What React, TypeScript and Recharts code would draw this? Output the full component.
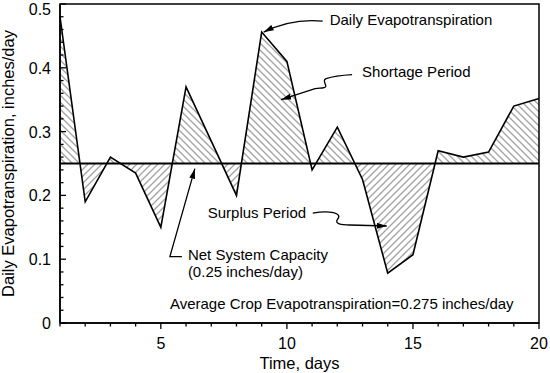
import {
  ComposedChart,
  Area,
  Line,
  XAxis,
  YAxis,
  ReferenceLine,
  ReferenceArea,
  ReferenceDot,
  Label,
} from "recharts";

const days = [1, 2, 3, 4, 5, 6, 7, 8, 9, 10, 11, 12, 13, 14, 15, 16, 17, 18, 19, 20];
const dailyEt = [
  0.48, 0.19, 0.26, 0.235, 0.15, 0.37, 0.285, 0.2, 0.456, 0.41, 0.24, 0.307, 0.225, 0.078,
  0.107, 0.27, 0.26, 0.268, 0.34, 0.352,
];
const capacity = 0.25;
const xTicks = days;
const xLabelTicks = [5, 10, 15, 20];
const yTicks = [
  0, 0.02, 0.04, 0.06, 0.08, 0.1, 0.12, 0.14, 0.16, 0.18, 0.2, 0.22, 0.24, 0.26, 0.28, 0.3,
  0.32, 0.34, 0.36, 0.38, 0.4, 0.42, 0.44, 0.46, 0.48, 0.5,
];
const yLabelTicks = [0, 0.1, 0.2, 0.3, 0.4, 0.5];

const data = days.map((d, i) => ({ day: d, et: dailyEt[i] }));

const FONT = "'Liberation Sans', Arial, Helvetica, sans-serif";

function XTick(props: any) {
  const { x, y, payload } = props;
  const v = payload.value;
  const major = xLabelTicks.includes(v);
  return (
    <g>
      <line x1={x} x2={x} y1={y} y2={y + (major ? 6 : 3.5)} stroke="#000" strokeWidth={1.3} />
      {major && (
        <text x={x} y={y + 26} textAnchor="middle" fontSize={16} fontFamily={FONT} fill="#000">
          {v}
        </text>
      )}
    </g>
  );
}

function YTick(props: any) {
  const { x, y, payload } = props;
  const v = payload.value;
  const major = yLabelTicks.some((t) => Math.abs(t - v) < 1e-6);
  // keep the top label inside the picture
  const base = Math.max(y + 6, 15);
  return (
    <g>
      <line x1={x} x2={x + (major ? 6 : 3.5)} y1={y} y2={y} stroke="#000" strokeWidth={1.3} />
      {major && (
        <text x={x - 9} y={base} textAnchor="end" fontSize={16} fontFamily={FONT} fill="#000">
          {v === 0 ? "0" : v.toFixed(1)}
        </text>
      )}
    </g>
  );
}

const txt = { fontSize: 15, fontFamily: FONT, fill: "#000" };
const ann = { fill: "none", stroke: "#000", strokeWidth: 1.3 };

export default function App() {
  return (
    <div style={{ position: "absolute", left: 0, top: 0, width: 550, height: 373, background: "#fff" }}>
      <ComposedChart
        width={550}
        height={373}
        data={data}
        margin={{ top: 4, right: 11, bottom: 0, left: 0 }}
      >
        <defs>
          <pattern id="hatchShort" patternUnits="userSpaceOnUse" width={7} height={7}>
            <path d="M0,0 L7,7 M-2,5 L2,9 M5,-2 L9,2" stroke="#a3a3a3" strokeWidth={1.3} />
          </pattern>
          <pattern id="hatchSurplus" patternUnits="userSpaceOnUse" width={7} height={7}>
            <path d="M0,7 L7,0 M-2,2 L2,-2 M5,9 L9,5" stroke="#a3a3a3" strokeWidth={1.3} />
          </pattern>
          <marker
            id="arrowHead"
            viewBox="0 0 10 6"
            refX={10}
            refY={3}
            markerWidth={10}
            markerHeight={6}
            orient="auto"
            markerUnits="userSpaceOnUse"
          >
            <path d="M0,0 L10,3 L0,6 z" fill="#000" />
          </marker>
        </defs>

        <XAxis
          dataKey="day"
          type="number"
          domain={[1, 20]}
          ticks={xTicks}
          interval={0}
          tickSize={0}
          tickMargin={0}
          tick={<XTick />}
          height={50}
          stroke="#000"
          strokeWidth={1.5}
        >
          <Label
            value="Time, days"
            position="insideBottom"
            offset={4}
            style={{ fontSize: 16.5, fontFamily: FONT, fill: "#000" }}
          />
        </XAxis>
        <YAxis
          type="number"
          domain={[0, 0.5]}
          ticks={yTicks}
          interval={0}
          tickSize={0}
          tickMargin={0}
          tick={<YTick />}
          width={60}
          stroke="#000"
          strokeWidth={1.5}
        >
          <Label
            value="Daily Evapotranspiration, inches/day"
            angle={-90}
            position="insideLeft"
            offset={8}
            style={{ textAnchor: "middle", fontSize: 16.5, fontFamily: FONT, fill: "#000" }}
          />
        </YAxis>

        <ReferenceArea
          x1={1}
          x2={20}
          y1={capacity}
          y2={0.5}
          shape={(p: any) => (
            <clipPath id="clipAbove">
              <rect x={p.x} y={p.y} width={p.width} height={p.height} />
            </clipPath>
          )}
        />
        <ReferenceArea
          x1={1}
          x2={20}
          y1={0}
          y2={capacity}
          shape={(p: any) => (
            <clipPath id="clipBelow">
              <rect x={p.x} y={p.y} width={p.width} height={p.height} />
            </clipPath>
          )}
        />

        <Area
          type="linear"
          dataKey="et"
          baseValue={capacity}
          fill="url(#hatchShort)"
          fillOpacity={1}
          stroke="none"
          clipPath="url(#clipAbove)"
          isAnimationActive={false}
        />
        <Area
          type="linear"
          dataKey="et"
          baseValue={capacity}
          fill="url(#hatchSurplus)"
          fillOpacity={1}
          stroke="none"
          clipPath="url(#clipBelow)"
          isAnimationActive={false}
        />
        <Line
          type="linear"
          dataKey="et"
          stroke="#000"
          strokeWidth={1.6}
          dot={false}
          activeDot={false}
          isAnimationActive={false}
        />
        <ReferenceLine y={capacity} stroke="#000" strokeWidth={2.2} />
        <ReferenceArea x1={1} x2={20} y1={0} y2={0.5} fill="none" stroke="#000" strokeWidth={1.5} />

        {/* Daily Evapotranspiration */}
        <ReferenceDot
          x={9}
          y={0.456}
          shape={(p: any) => (
            <g>
              <path
                d={`M${p.cx + 61},${p.cy - 11} Q${p.cx + 30},${p.cy - 14} ${p.cx + 2},${p.cy}`}
                {...ann}
                markerEnd="url(#arrowHead)"
              />
              <text x={p.cx + 68} y={p.cy - 7} {...txt}>
                Daily Evapotranspiration
              </text>
            </g>
          )}
        />
        {/* Shortage Period */}
        <ReferenceDot
          x={9.73}
          y={0.35}
          shape={(p: any) => (
            <g>
              <path
                d={`M${p.cx + 72},${p.cy - 25} Q${p.cx + 55},${p.cy - 24} ${p.cx + 46},${p.cy - 21} C${p.cx + 41},${p.cy - 19} ${p.cx + 49},${p.cy - 13} ${p.cx + 44},${p.cy - 12} C${p.cx + 41},${p.cy - 11} ${p.cx + 39},${p.cy - 12} ${p.cx + 35},${p.cy - 11} L${p.cx + 1},${p.cy}`}
                {...ann}
                markerEnd="url(#arrowHead)"
              />
              <text x={p.cx + 82} y={p.cy - 23} {...txt}>
                Shortage Period
              </text>
            </g>
          )}
        />
        {/* Surplus Period */}
        <ReferenceDot
          x={14}
          y={0.152}
          shape={(p: any) => (
            <g>
              <path
                d={`M${p.cx - 75},${p.cy - 13} C${p.cx - 58},${p.cy - 16} ${p.cx - 45},${p.cy - 13} ${p.cx - 50},${p.cy - 7} C${p.cx - 54},${p.cy - 2} ${p.cx - 46},${p.cy - 1} ${p.cx - 38},${p.cy - 1} L${p.cx - 1},${p.cy}`}
                {...ann}
                markerEnd="url(#arrowHead)"
              />
              <text x={p.cx - 180} y={p.cy - 8} {...txt}>
                Surplus Period
              </text>
            </g>
          )}
        />
        {/* Net System Capacity */}
        <ReferenceDot
          x={6.35}
          y={0.245}
          shape={(p: any) => (
            <g>
              <path
                d={`M${p.cx - 13},${p.cy + 90} L${p.cx - 25},${p.cy + 90} L${p.cx},${p.cy + 2}`}
                {...ann}
                markerEnd="url(#arrowHead)"
              />
              <text x={p.cx - 7} y={p.cy + 93} {...txt}>
                Net System Capacity
              </text>
              <text x={p.cx - 7} y={p.cy + 110} {...txt}>
                (0.25 inches/day)
              </text>
            </g>
          )}
        />
        <ReferenceDot
          x={5.36}
          y={0.022}
          shape={(p: any) => (
            <text x={p.cx} y={p.cy} {...txt}>
              Average Crop Evapotranspiration=0.275 inches/day
            </text>
          )}
        />
      </ComposedChart>
    </div>
  );
}
